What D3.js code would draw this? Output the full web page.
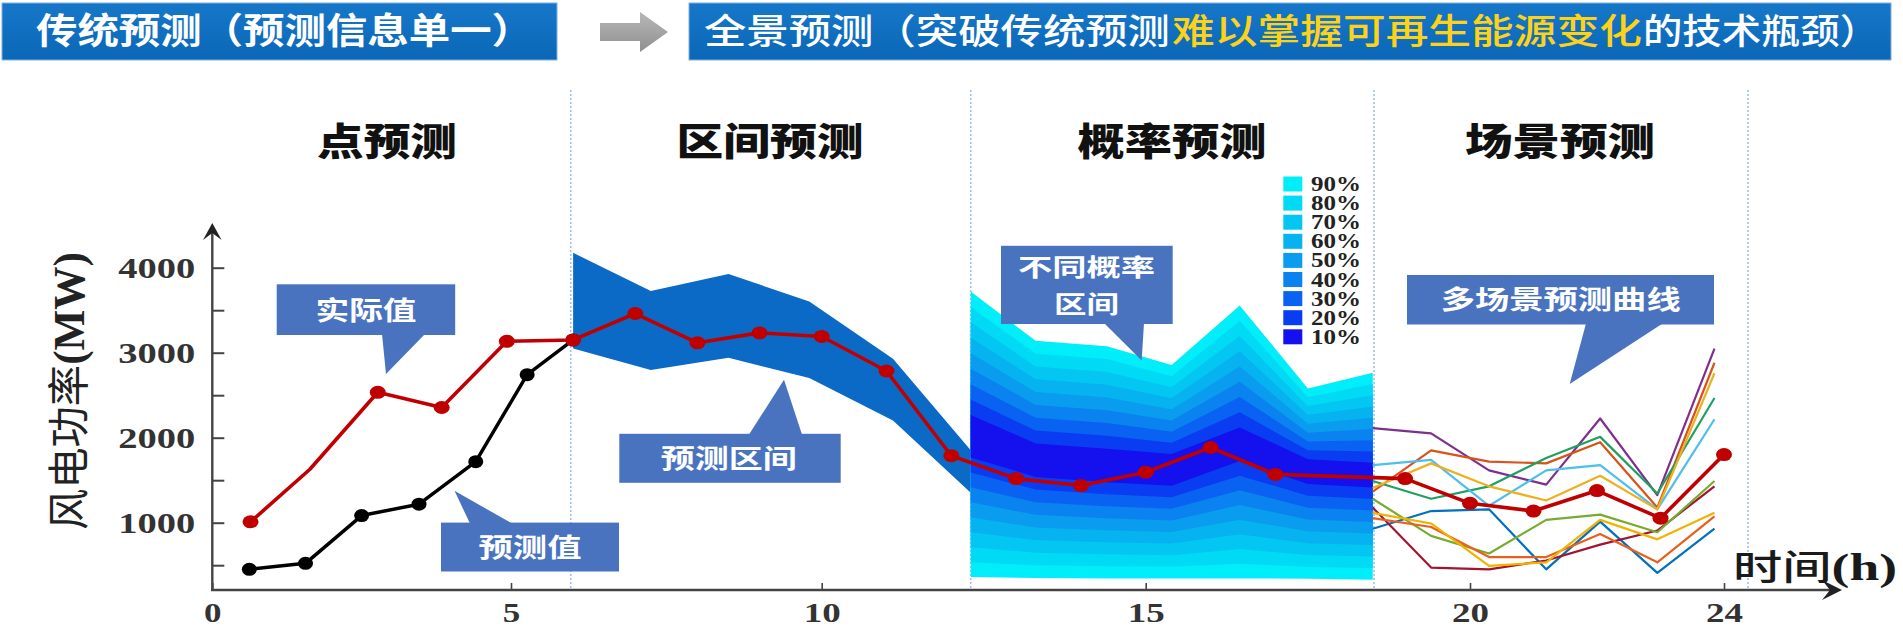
<!DOCTYPE html>
<html><head><meta charset="utf-8">
<script src="https://cdn.jsdelivr.net/npm/d3@7"></script>
<style>html,body{margin:0;padding:0;background:#fff;overflow:hidden}</style>
</head><body>
<svg id="c" width="1903" height="634"></svg>
<script>
// ---------------- DATA ----------------
const xTickValues = [0, 5, 10, 15, 20, 24];
const yMajorTicks = [1000, 2000, 3000, 4000];
const yMinorTicks = [500, 1500, 2500, 3500];

// actual power (red) – whole day
const actualHours  = [0.64, 1.63, 2.77, 3.84, 4.93, 6, 7, 8, 9, 10, 11, 12, 13, 14, 15, 16, 17, 19, 20, 21, 22, 23, 24];
const actualValues = [1010, 1626, 2534, 2355, 3134, 3150, 3461, 3116, 3233, 3191, 2785, 1788, 1519, 1437, 1594, 1885, 1568, 1519, 1228, 1137, 1378, 1053, 1802];
const actualMarked = [true, false, true, true, true, true, true, true, true, true, true, true, true, true, true, true, true, true, true, true, true, true, true];

// point forecast (black)
const forecastHours  = [0.62, 1.56, 2.50, 3.46, 4.41, 5.26, 6];
const forecastValues = [451, 522, 1084, 1218, 1718, 2742, 3150];

// interval forecast band
const intervalHours = [6, 7.25, 8.5, 9.8, 11.1, 12.3];
const intervalUpper = [4175, 3727, 3926, 3602, 2929, 1851];
const intervalLower = [3050, 2797, 2942, 2701, 2203, 1353];

// probabilistic forecast bands (10% .. 90%)
const probHours  = [12.3, 13.3, 14.4, 15.4, 16.45, 17.5, 18.5];
const probLevels = ["10%", "20%", "30%", "40%", "50%", "60%", "70%", "80%", "90%"];
const probUpper = [
  [2266, 1933, 1871, 1809, 2120, 1747, 1705],
  [2448, 2084, 2022, 1940, 2299, 1851, 1838],
  [2630, 2235, 2172, 2071, 2479, 1955, 1970],
  [2811, 2386, 2323, 2201, 2658, 2059, 2103],
  [2993, 2537, 2473, 2332, 2838, 2164, 2235],
  [3175, 2687, 2624, 2463, 3017, 2268, 2368],
  [3357, 2838, 2774, 2594, 3196, 2372, 2500],
  [3538, 2989, 2925, 2724, 3376, 2476, 2633],
  [3720, 3140, 3075, 2855, 3555, 2580, 2765]
];
const probLower = [
  [1768, 1539, 1477, 1436, 1726, 1456, 1415],
  [1592, 1390, 1336, 1300, 1553, 1317, 1279],
  [1416, 1242, 1194, 1163, 1381, 1177, 1144],
  [1240, 1093, 1053, 1027, 1208, 1038, 1008],
  [1064, 945, 911, 890, 1036, 898, 873],
  [888, 796, 770, 754, 863, 759, 737],
  [712, 647, 628, 618, 690, 619, 601],
  [536, 499, 487, 481, 518, 480, 466],
  [360, 350, 345, 345, 345, 340, 330]
];

// scenario forecast curves
const scenarioHours = [18.5, 19.4, 20.3, 21.2, 22.05, 22.95, 23.85];
const scenarioValues = [
  [2113, 2051, 1615, 1448, 2226, 1324, 3049],
  [1365, 1851, 1719, 1698, 1947, 1178, 2882],
  [1490, 1282, 1428, 1760, 2010, 1344, 2467],
  [1677, 1739, 1199, 1615, 1677, 1157, 2217],
  [1407, 1698, 1428, 1261, 1552, 1157, 2758],
  [929, 1137, 1157, 451, 1012, 409, 929],
  [1178, 472, 451, 555, 742, 908, 1428],
  [1282, 845, 638, 1033, 1095, 887, 1490],
  [1053, 949, 596, 596, 866, 534, 1074],
  [1116, 991, 492, 534, 1033, 804, 1116]
];

// texts
const headerLeft = "传统预测（预测信息单一）";
const headerRightParts = ["全景预测（突破传统预测", "难以掌握可再生能源变化", "的技术瓶颈）"];
const panelTitles = ["点预测", "区间预测", "概率预测", "场景预测"];
const yAxisTitle = ["风电功率", "(MW)"];
const xAxisTitle = ["时间", "(h)"];

// ---------------- STYLES ----------------
const scenarioColors = ["#7E2F8E", "#D95319", "#1FA060", "#4DBEEE", "#EDB120", "#0072BD", "#A2142F", "#77AC30", "#E8601C", "#F2B200"];
const probColors = ["#1410ee", "#0a3cf2", "#0a62f2", "#0a82f0", "#0a9cee", "#06b2ef", "#03c6f2", "#01daf5", "#00eefa"];
const CJK = "'Noto Sans CJK SC','Noto Sans',sans-serif";
const SERIF = "'Liberation Serif','Times New Roman',serif";

const svg = d3.select("#c");

// scales (the reference's hour axis is slightly non-uniform -> piecewise linear)
const x = d3.scaleLinear().domain(xTickValues).range([212.3, 511, 821.7, 1145.7, 1470, 1724]);
const y = d3.scaleLinear().domain([0, 4000]).range([607.7, 267.7]);

// ---------------- HEADER ----------------
const defs = svg.append("defs");
const hg = defs.append("linearGradient").attr("id", "hdr").attr("x1", 0).attr("y1", 0).attr("x2", 0).attr("y2", 1);
hg.append("stop").attr("offset", "0").attr("stop-color", "#1677c8");
hg.append("stop").attr("offset", "1").attr("stop-color", "#0b67b8");
const ag = defs.append("linearGradient").attr("id", "arr").attr("x1", 0).attr("y1", 0).attr("x2", 0).attr("y2", 1);
ag.append("stop").attr("offset", "0").attr("stop-color", "#b8b8b8");
ag.append("stop").attr("offset", "1").attr("stop-color", "#8f8f8f");

svg.append("rect").attr("x", 2).attr("y", 3).attr("width", 555).attr("height", 57)
  .attr("fill", "url(#hdr)").attr("stroke", "#7fb0e0").attr("stroke-width", 1);
svg.append("text").attr("x", 36).attr("y", 44).text(headerLeft)
  .attr("font-family", CJK).attr("font-weight", 700).attr("font-size", 36).attr("fill", "#fff")
  .attr("textLength", 497).attr("lengthAdjust", "spacingAndGlyphs");

svg.append("path").attr("d", "M600,23 H640 V12 L668,32 L640,52 V41 H600 Z").attr("fill", "url(#arr)");

svg.append("rect").attr("x", 689).attr("y", 3).attr("width", 1202).attr("height", 57)
  .attr("fill", "url(#hdr)").attr("stroke", "#7fb0e0").attr("stroke-width", 1);
const hrX = [704, 1172, 1643], hrW = [466, 470, 236], hrC = ["#ffffff", "#ffd21a", "#ffffff"];
headerRightParts.forEach((t, i) => {
  svg.append("text").attr("x", hrX[i]).attr("y", 44).text(t)
    .attr("font-family", CJK).attr("font-weight", 500).attr("font-size", 35).attr("fill", hrC[i])
    .attr("textLength", hrW[i]).attr("lengthAdjust", "spacingAndGlyphs");
});

// ---------------- PANEL SEPARATORS ----------------
[570.7, 970.7, 1374, 1748].forEach(px => {
  svg.append("line").attr("x1", px).attr("x2", px).attr("y1", 90).attr("y2", 590)
    .attr("stroke", "#9fc0ec").attr("stroke-width", 1.6).attr("stroke-dasharray", "2,2");
});

// panel titles
const titleCx = [387, 770, 1172, 1560], titleW = [140, 187, 189, 190];
panelTitles.forEach((t, i) => {
  svg.append("text").attr("x", titleCx[i]).attr("y", 155).attr("text-anchor", "middle").text(t)
    .attr("font-family", CJK).attr("font-weight", 900).attr("font-size", 38).attr("fill", "#111")
    .attr("textLength", titleW[i]).attr("lengthAdjust", "spacingAndGlyphs");
});

// ---------------- INTERVAL BAND ----------------
const intervalArea = d3.area().x((d, i) => x(intervalHours[i])).y0((d, i) => y(intervalLower[i])).y1((d, i) => y(intervalUpper[i]));
svg.append("path").datum(intervalHours).attr("d", intervalArea).attr("fill", "#0a6ac6");

// ---------------- PROBABILITY BANDS ----------------
for (let k = probLevels.length - 1; k >= 0; k--) {
  const ar = d3.area().x((d, i) => x(probHours[i])).y0((d, i) => y(probLower[k][i])).y1((d, i) => y(probUpper[k][i]));
  svg.append("path").datum(probHours).attr("d", ar).attr("fill", probColors[k]);
}

// legend (one text column)
const legText = svg.append("text").attr("font-family", SERIF).attr("font-weight", 700)
  .attr("font-size", 20).attr("fill", "#222");
probLevels.slice().reverse().forEach((lab, j) => {
  const k = probLevels.length - 1 - j;
  const cy = 184 + j * 19.1;
  svg.append("rect").attr("x", 1283.3).attr("y", cy - 7.5).attr("width", 19).attr("height", 15).attr("fill", probColors[k]);
  legText.append("tspan").attr("x", 1311).attr("y", cy + 7).text(lab)
    .attr("textLength", 50).attr("lengthAdjust", "spacingAndGlyphs");
});

// ---------------- SCENARIO CURVES ----------------
const sLine = d3.line().x((d, i) => x(scenarioHours[i])).y(d => y(d));
scenarioValues.forEach((s, i) => {
  svg.append("path").datum(s).attr("d", sLine).attr("fill", "none")
    .attr("stroke", scenarioColors[i]).attr("stroke-width", 2.2).attr("stroke-linejoin", "round");
});

// ---------------- FORECAST (black) ----------------
const fLine = d3.line().x((d, i) => x(forecastHours[i])).y(d => y(d));
svg.append("path").datum(forecastValues).attr("d", fLine).attr("fill", "none")
  .attr("stroke", "#000").attr("stroke-width", 3.5).attr("stroke-linejoin", "round");
svg.selectAll(".fm").data(forecastValues).enter().append("ellipse")
  .attr("cx", (d, i) => x(forecastHours[i])).attr("cy", d => y(d)).attr("rx", 7.5).attr("ry", 6.5).attr("fill", "#000");

// ---------------- ACTUAL (red) ----------------
const aLine = d3.line().x((d, i) => x(actualHours[i])).y(d => y(d));
svg.append("path").datum(actualValues).attr("d", aLine).attr("fill", "none")
  .attr("stroke", "#c00000").attr("stroke-width", 3.6).attr("stroke-linejoin", "round");
svg.selectAll(".am").data(actualValues.map((v, i) => ({h: actualHours[i], v, m: actualMarked[i]})).filter(d => d.m))
  .enter().append("ellipse")
  .attr("cx", d => x(d.h)).attr("cy", d => y(d.v)).attr("rx", 8).attr("ry", 6.5).attr("fill", "#c00000");

// ---------------- AXES ----------------
const yAxis = d3.axisLeft(y).tickValues(yMajorTicks.concat(yMinorTicks))
  .tickSize(-12).tickPadding(17)
  .tickFormat(d => yMajorTicks.includes(d) ? d3.format("d")(d) : "");
const gy = svg.append("g").attr("transform", "translate(212.3,0)").call(yAxis);
gy.select(".domain").remove();
gy.selectAll(".tick line").attr("stroke", "#444").attr("stroke-width", 2);
gy.selectAll(".tick text").attr("font-family", SERIF).attr("font-weight", 700).attr("font-size", 29)
  .attr("fill", "#333").attr("dy", "0.33em")
  .attr("textLength", 77).attr("lengthAdjust", "spacingAndGlyphs");

const xAxis = d3.axisBottom(x).tickValues(xTickValues).tickSize(-7).tickPadding(12.5).tickFormat(d3.format("d"));
const gx = svg.append("g").attr("transform", "translate(0,590)").call(xAxis);
gx.select(".domain").remove();
gx.selectAll(".tick line").attr("stroke", "#444").attr("stroke-width", 1.6);
gx.selectAll(".tick text").attr("font-family", SERIF).attr("font-weight", 700).attr("font-size", 27)
  .attr("fill", "#333")
  .attr("textLength", d => d >= 10 ? 37 : 17.5).attr("lengthAdjust", "spacingAndGlyphs");

// axis lines with arrows
svg.append("line").attr("x1", 212.3).attr("x2", 212.3).attr("y1", 591).attr("y2", 226).attr("stroke", "#444").attr("stroke-width", 2.4);
svg.append("path").attr("d", "M203,240 L212.3,223 L221.6,240 L212.3,233 Z").attr("fill", "#222");
svg.append("line").attr("x1", 211).attr("x2", 1838).attr("y1", 590).attr("y2", 590).attr("stroke", "#444").attr("stroke-width", 2.4);
svg.append("path").attr("d", "M1822,580 L1842,590 L1822,600 L1830,590 Z").attr("fill", "#222");

// axis titles
const yt = svg.append("text").attr("transform", "translate(84,391) rotate(-90)").attr("text-anchor", "middle")
  .attr("textLength", 278).attr("lengthAdjust", "spacingAndGlyphs").attr("fill", "#222");
yt.append("tspan").text(yAxisTitle[0]).attr("font-family", CJK).attr("font-weight", 400).attr("font-size", 42);
yt.append("tspan").text(yAxisTitle[1]).attr("font-family", SERIF).attr("font-weight", 700).attr("font-size", 44);

const xt = svg.append("text").attr("x", 1733).attr("y", 580)
  .attr("textLength", 164).attr("lengthAdjust", "spacingAndGlyphs").attr("fill", "#1a1a1a");
xt.append("tspan").text(xAxisTitle[0]).attr("font-family", CJK).attr("font-weight", 500).attr("font-size", 35);
xt.append("tspan").text(xAxisTitle[1]).attr("font-family", SERIF).attr("font-weight", 700).attr("font-size", 38);

// ---------------- CALLOUTS ----------------
function callout(box, tri, lines, fs) {
  const g = svg.append("g");
  g.append("rect").attr("x", box[0]).attr("y", box[1]).attr("width", box[2] - box[0]).attr("height", box[3] - box[1]).attr("fill", "#4a73bf");
  g.append("path").attr("d", "M" + tri.map(p => p.join(",")).join("L") + "Z").attr("fill", "#4a73bf");
  lines.forEach(l => {
    g.append("text").attr("text-anchor", "middle")
      .attr("font-family", CJK).attr("font-weight", 700).attr("font-size", fs || 26).attr("fill", "#fff")
      .attr("x", l[1]).attr("y", l[2] + (fs || 26) * 0.35).text(l[0])
      .attr("textLength", l[3]).attr("lengthAdjust", "spacingAndGlyphs");
  });
}
callout([276.7, 284.3, 455.2, 335], [[382, 334], [425, 334], [386, 374]], [["实际值", 366, 311, 101]]);
callout([441, 522.6, 619, 571.5], [[470, 523.5], [512, 523.5], [454.5, 490.8]], [["预测值", 530, 548, 103]]);
callout([619.3, 433.8, 840.7, 482.8], [[749, 434.5], [802, 434.5], [784, 379.8]], [["预测区间", 728.7, 458.5, 136]]);
callout([1001, 245.8, 1172.7, 324], [[1104, 323], [1144, 323], [1141.7, 360.4]], [["不同概率", 1086.5, 268, 137], ["区间", 1086.5, 305, 65]], 24);
callout([1407, 275, 1714, 324.5], [[1586, 323.5], [1662.6, 323.5], [1569.7, 383.9]], [["多场景预测曲线", 1560.7, 299.5, 240]]);
</script>
</body></html>
